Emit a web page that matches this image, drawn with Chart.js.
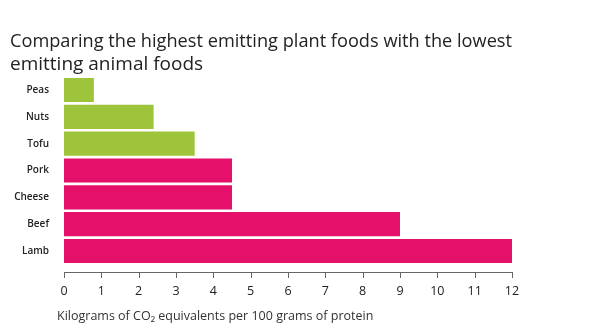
<!DOCTYPE html>
<html>
<head>
<meta charset="utf-8">
<script src="https://cdn.jsdelivr.net/npm/chart.js@4"></script>
<style>
  html, body { margin: 0; padding: 0; background: #fff; }
  #wrap { width: 590px; height: 332px; position: relative; }
  #xtitle {
    position: absolute; left: 57px; top: 307px;
    font: 12.5px 'Open Sans', sans-serif; color: #333; white-space: nowrap;
  }
</style>
</head>
<body>
<div id="wrap">
  <canvas id="chart"></canvas>
  <div id="xtitle">Kilograms of CO₂ equivalents per 100 grams of protein</div>
</div>
<script>
// ── data ────────────────────────────────────────────────────────────────────
const foods    = ['Peas', 'Nuts', 'Tofu', 'Pork', 'Cheese', 'Beef', 'Lamb'];
const emission = [0.8, 2.4, 3.5, 4.5, 4.5, 9, 12];
const isPlant  = [true, true, true, false, false, false, false];
const xTicks   = [0, 1, 2, 3, 4, 5, 6, 7, 8, 9, 10, 11, 12];

const GREEN = '#9dc43a';
const PINK  = '#e5106a';

// axis line sits a little below the bars, ticks pointing down
const lowAxis = {
  id: 'lowAxis',
  afterDraw(chart) {
    const { ctx, chartArea } = chart;
    const x = chart.scales.x;
    const y0 = Math.round(chartArea.bottom + 8);
    ctx.save();
    ctx.strokeStyle = '#666';
    ctx.lineWidth = 1;
    ctx.beginPath();
    ctx.moveTo(x.getPixelForValue(xTicks[0]), y0 + 0.5);
    ctx.lineTo(x.getPixelForValue(xTicks[xTicks.length - 1]) + 1, y0 + 0.5);
    xTicks.forEach(t => {
      const px = Math.round(x.getPixelForValue(t)) + 0.5;
      ctx.moveTo(px, y0);
      ctx.lineTo(px, y0 + 6);
    });
    ctx.stroke();
    ctx.restore();
  }
};

new Chart(document.getElementById('chart').getContext('2d'), {
  type: 'bar',
  data: {
    labels: foods,
    datasets: [{
      data: emission,
      backgroundColor: isPlant.map(p => p ? GREEN : PINK),
      borderWidth: 0,
      categoryPercentage: 1,
      barPercentage: 0.9
    }]
  },
  options: {
    indexAxis: 'y',
    responsive: true,
    maintainAspectRatio: false,
    animation: false,
    layout: { padding: { left: 10, right: 78, top: 0, bottom: 0 } },
    plugins: {
      legend: { display: false },
      tooltip: { enabled: false },
      title: {
        display: true,
        align: 'start',
        text: ['Comparing the highest emitting plant foods with the lowest', 'emitting animal foods'],
        color: '#222',
        font: { family: 'Open Sans', size: 19, weight: 'normal', lineHeight: 1.2 },
        padding: { top: 30, bottom: 1 }
      }
    },
    scales: {
      x: {
        min: 0,
        max: 12,
        afterBuildTicks: s => { s.ticks = xTicks.map(v => ({ value: v })); },
        afterFit: s => { s.height = 67.6; },
        grid: { display: false, drawTicks: false },
        border: { display: false },
        ticks: {
          padding: 20,
          color: '#222',
          font: { family: 'Open Sans', size: 12.5 }
        }
      },
      y: {
        afterFit: s => { s.width = 54; },
        grid: { display: false, drawTicks: false },
        border: { display: false },
        ticks: {
          padding: 15,
          color: '#222',
          font: { family: 'Open Sans', size: 10, weight: '600' }
        }
      }
    }
  },
  plugins: [lowAxis]
});
</script>
</body>
</html>
